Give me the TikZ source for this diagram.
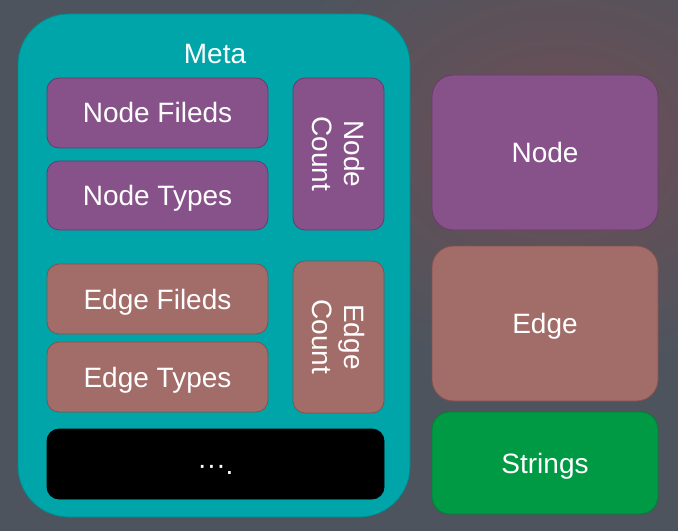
\documentclass[tikz,border=0pt]{standalone}
\usepackage{fontspec}
\setmainfont{Liberation Sans}
\definecolor{bggray}{HTML}{4E545D}
\definecolor{bgred}{HTML}{6F4E55}
\definecolor{metateal}{HTML}{00A5A9}
\definecolor{metaline}{HTML}{00898C}
\definecolor{nodepurple}{HTML}{87518A}
\definecolor{nodeline}{HTML}{683B6B}
\definecolor{edgebrown}{HTML}{A26C69}
\definecolor{edgeline}{HTML}{85504E}
\definecolor{strgreen}{HTML}{009A44}
\definecolor{strline}{HTML}{007F36}
\begin{document}
\begin{tikzpicture}[x=0.75pt,y=-0.75pt,
  lbl/.style={text=white,font=\fontsize{21}{24}\selectfont,inner sep=0pt,align=center},
  onelbl/.style={lbl,text height=15pt,text depth=0pt},
  smallbox/.style={rounded corners=9pt,line width=0.6pt},
  bigbox/.style={rounded corners=16pt,line width=0.6pt},
  purplebox/.style={fill=nodepurple,draw=nodeline},
  brownbox/.style={fill=edgebrown,draw=edgeline}]
% background
\useasboundingbox (0,0) rectangle (678,531);
\begin{scope}
\clip (0,0) rectangle (678,531);
\fill[bggray] (0,0) rectangle (678,531);
\shade[inner color=bgred,outer color=bggray] (560,140) ellipse [x radius=300,y radius=230];
\end{scope}
% Meta container
\node[fill=metateal,draw=metaline,line width=0.6pt,rounded corners=38pt,
  minimum width=294pt,minimum height=377.25pt,inner sep=0pt] (meta) at (214,265.5) {};
\node[text=white,font=\fontsize{21}{24}\selectfont,anchor=base,inner sep=0pt] (metalabel) at (215,64) {Meta};
% node group
\node[onelbl,smallbox,purplebox,minimum width=165.75pt,minimum height=52.5pt] (nf) at (157.5,113) {Node Fileds};
\node[onelbl,smallbox,purplebox,minimum width=165.75pt,minimum height=51.75pt] (nt) at (157.5,195.5) {Node Types};
\node[lbl,smallbox,purplebox,minimum width=114pt,minimum height=68.25pt,rotate=-90] (nc) at (338.5,154) {Node\\Count};
% edge group
\node[onelbl,smallbox,brownbox,minimum width=165.75pt,minimum height=52.5pt] (ef) at (157.5,299) {Edge Fileds};
\node[onelbl,smallbox,brownbox,minimum width=165.75pt,minimum height=52.5pt] (et) at (157.5,377) {Edge Types};
\node[lbl,smallbox,brownbox,minimum width=114pt,minimum height=68.25pt,rotate=-90] (ec) at (338.5,337) {Edge\\Count};
% black box
\node[onelbl,smallbox,fill=black,draw=black,minimum width=252.75pt,minimum height=52.5pt] (more) at (215.5,464) {\char"00B7\char"00B7\char"00B7.};
% right column
\node[onelbl,bigbox,purplebox,minimum width=169.5pt,minimum height=116.25pt] (node) at (545,152.5) {Node};
\node[onelbl,bigbox,brownbox,minimum width=169.5pt,minimum height=116.25pt] (edge) at (545,323.5) {Edge};
\node[onelbl,smallbox,rounded corners=13pt,fill=strgreen,draw=strline,minimum width=169.5pt,minimum height=76.5pt] (strings) at (545,463) {Strings};
\end{tikzpicture}
\end{document}
